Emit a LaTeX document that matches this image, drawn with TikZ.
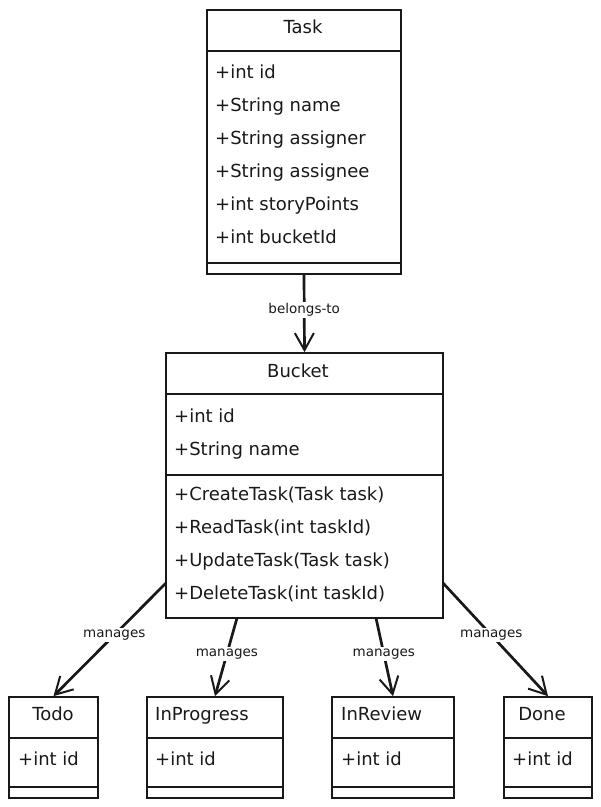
\documentclass[tikz,border=0pt]{standalone}
\usepackage{fontspec}
\setmainfont{DejaVu Sans}
\usetikzlibrary{arrows.meta}
\begin{document}
\begin{tikzpicture}[x=1pt,y=-1pt,
  classbox/.style={draw=black!90, line width=1.7pt, rectangle, inner sep=0pt},
  divider/.style={draw=black!90, line width=1.2pt},
  rowtext/.style={anchor=base west, inner sep=0pt, font=\fontsize{18}{21}\selectfont, text=black!90},
  titletext/.style={anchor=base, inner sep=0pt, font=\fontsize{18}{21}\selectfont, text=black!90},
  lbl/.style={fill=white, inner sep=1.5pt, font=\fontsize{13.5}{15}\selectfont, text=black!90},
  rel/.style={draw=black!90, line width=2.7pt, -{Straight Barb[length=17pt,width=19pt,line width=2pt]}}
]
\path[use as bounding box, fill=white] (0,0) rectangle (601,807);

% Task
\node[classbox, minimum width=194pt, minimum height=264pt] (task) at (304,142) {};
\draw[divider] (207,51) -- (401,51);
\draw[divider] (207,263) -- (401,263);
\node[titletext] (tasktitle) at (303,33) {Task};
\node[rowtext] (t1) at (215,78) {+int id};
\node[rowtext] (t2) at (215,111) {+String name};
\node[rowtext] (t3) at (215,144) {+String assigner};
\node[rowtext] (t4) at (215,177) {+String assignee};
\node[rowtext] (t5) at (215,210) {+int storyPoints};
\node[rowtext] (t6) at (215,243) {+int bucketId};

% Bucket
\node[classbox, minimum width=277pt, minimum height=265pt] (bucket) at (304.5,485.5) {};
\draw[divider] (166,394) -- (443,394);
\draw[divider] (166,475) -- (443,475);
\node[titletext] (buckettitle) at (298,377) {Bucket};
\node[rowtext] (b1) at (174,422) {+int id};
\node[rowtext] (b2) at (174,455) {+String name};
\node[rowtext] (b3) at (174,500) {+CreateTask(Task task)};
\node[rowtext] (b4) at (174,533) {+ReadTask(int taskId)};
\node[rowtext] (b5) at (174,566) {+UpdateTask(Task task)};
\node[rowtext] (b6) at (174,599) {+DeleteTask(int taskId)};

% Todo
\node[classbox, minimum width=89pt, minimum height=101pt] (todo) at (53.5,747.5) {};
\draw[divider] (9,738) -- (98,738);
\draw[divider] (9,787) -- (98,787);
\node[titletext] (todotitle) at (53,720) {Todo};
\node[rowtext] (todo1) at (18,765) {+int id};

% InProgress
\node[classbox, minimum width=136pt, minimum height=101pt] (inprog) at (215,747.5) {};
\draw[divider] (147,738) -- (283,738);
\draw[divider] (147,787) -- (283,787);
\node[rowtext] (inprogtitle) at (155,720) {InProgress};
\node[rowtext] (inprog1) at (155,765) {+int id};

% InReview
\node[classbox, minimum width=122pt, minimum height=101pt] (inrev) at (393,747.5) {};
\draw[divider] (332,738) -- (454,738);
\draw[divider] (332,787) -- (454,787);
\node[rowtext] (inrevtitle) at (341,720) {InReview};
\node[rowtext] (inrev1) at (341,765) {+int id};

% Done
\node[classbox, minimum width=88pt, minimum height=101pt] (done) at (548,747.5) {};
\draw[divider] (504,738) -- (592,738);
\draw[divider] (504,787) -- (592,787);
\node[titletext] (donetitle) at (542,720) {Done};
\node[rowtext] (done1) at (512,765) {+int id};

% connectors
\draw[rel] (task.south) -- (bucket.north) node[lbl, pos=0.45] (l0) {belongs-to};

\coordinate (s1) at (166,583);
\coordinate (s2) at (237,618);
\coordinate (s3) at (376,618);
\coordinate (s4) at (443,583);

\draw[rel] (s1) -- (todo.north) node[lbl, pos=0.46] (l1) {manages};
\draw[rel] (s2) -- (inprog.north) node[lbl, pos=0.46] (l2) {manages};
\draw[rel] (s3) -- (inrev.north) node[lbl, pos=0.46] (l3) {manages};
\draw[rel] (s4) -- (done.north) node[lbl, pos=0.46] (l4) {manages};
\end{tikzpicture}
\end{document}
